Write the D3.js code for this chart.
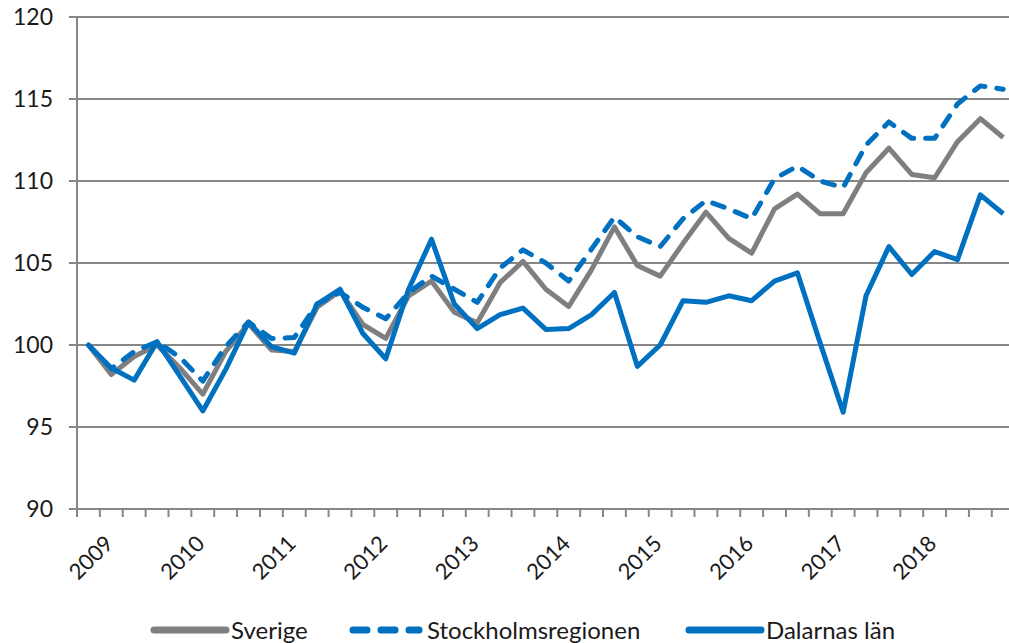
<!DOCTYPE html>
<html><head><meta charset="utf-8">
<script src="https://cdn.jsdelivr.net/npm/d3@7"></script>
<style>html,body{margin:0;padding:0;background:#fff;}svg{display:block;font-family:Lato,"Open Sans",sans-serif;}</style>
</head><body><svg id="c" width="1009" height="643"></svg>
<script>
const quarters = ["2009K1","2009K2","2009K3","2009K4","2010K1","2010K2","2010K3","2010K4","2011K1","2011K2","2011K3","2011K4","2012K1","2012K2","2012K3","2012K4","2013K1","2013K2","2013K3","2013K4","2014K1","2014K2","2014K3","2014K4","2015K1","2015K2","2015K3","2015K4","2016K1","2016K2","2016K3","2016K4","2017K1","2017K2","2017K3","2017K4","2018K1","2018K2","2018K3","2018K4","2019K1"];
const yearLabels = ["2009","2010","2011","2012","2013","2014","2015","2016","2017","2018"];
const yTicks = [90,95,100,105,110,115,120];
const sverige = [100,98.2,99.3,100.0,98.6,97.0,99.6,101.3,99.7,99.6,102.3,103.3,101.25,100.4,103.0,103.9,102.0,101.35,103.8,105.1,103.4,102.35,104.6,107.2,104.85,104.2,106.2,108.1,106.5,105.6,108.3,109.2,108.0,108.0,110.5,112.0,110.4,110.2,112.4,113.8,112.65];
const stockholm = [100,98.55,99.6,100.2,99.25,97.8,99.9,101.4,100.4,100.45,102.5,103.2,102.3,101.6,103.2,104.2,103.4,102.6,104.7,105.8,105.0,103.9,105.85,107.8,106.6,106.0,107.7,108.8,108.3,107.7,110.15,110.9,110.0,109.6,112.2,113.6,112.6,112.6,114.7,115.8,115.6];
const dalarna = [100,98.6,97.86,100.2,98.1,95.98,98.5,101.4,99.9,99.5,102.5,103.4,100.7,99.16,103.4,106.45,102.5,101.0,101.85,102.25,100.95,101.0,101.85,103.2,98.7,100.0,102.7,102.6,103.0,102.7,103.9,104.4,100.1,95.9,103.0,106.0,104.3,105.7,105.2,109.15,108.0];
const seriesNames = ["Sverige","Stockholmsregionen","Dalarnas län"];

const svg = d3.select("#c");
const gridCol = "#878787";
const x = d3.scaleLinear().domain([0, quarters.length]).range([77, 77 + 22.87*quarters.length]);
const y = d3.scaleLinear().domain([90,120]).range([509,17]);

// gridlines
svg.append("g").selectAll("line").data(yTicks).join("line")
  .attr("x1",69).attr("x2",1009).attr("y1",d=>y(d)).attr("y2",d=>y(d))
  .attr("stroke",gridCol).attr("stroke-width",2);
// y axis line
svg.append("line").attr("x1",77).attr("x2",77).attr("y1",y(120)).attr("y2",y(90)+1)
  .attr("stroke",gridCol).attr("stroke-width",2);
// x ticks
svg.append("g").selectAll("line").data(d3.range(0, quarters.length+1)).join("line")
  .attr("x1",d=>x(d)).attr("x2",d=>x(d)).attr("y1",y(90)).attr("y2",y(90)+8)
  .attr("stroke",gridCol).attr("stroke-width",2);
// y labels
svg.append("g").selectAll("text").data(yTicks).join("text")
  .attr("x",53).attr("y",d=>y(d)).attr("dy","0.36em").attr("text-anchor","end")
  .attr("font-size",23).attr("fill","#1a1a1a").text(d=>d);
// x labels
svg.append("g").selectAll("text").data(yearLabels).join("text")
  .attr("transform",(d,i)=>`translate(${x(i*4+0.5)+26},545) rotate(-45)`)
  .attr("text-anchor","end").attr("font-size",22).attr("fill","#1a1a1a").text(d=>d);

const line = d3.line().x((d,i)=>x(i+0.5)).y(d=>y(d));
const styles = [
  {data:sverige, color:"#7f7f7f", dash:null},
  {data:stockholm, color:"#0070c0", dash:"12,12"},
  {data:dalarna, color:"#0070c0", dash:null}
];
styles.forEach(s=>{
  svg.append("path").datum(s.data).attr("d",line).attr("fill","none")
    .attr("stroke",s.color).attr("stroke-width",5).attr("stroke-linejoin","round")
    .attr("stroke-linecap", s.dash ? "round":"butt")
    .attr("stroke-dasharray", s.dash);
});

// legend
const legX = [154, 350, 689];
const lg = svg.append("g");
seriesNames.forEach((n,i)=>{
  const s = styles[i];
  lg.append("line").attr("x1",legX[i]+(s.dash?3:0)).attr("x2",legX[i]+72-(s.dash?3:0)).attr("y1",630).attr("y2",630)
    .attr("stroke",s.color).attr("stroke-width",7)
    .attr("stroke-linecap","round").attr("stroke-dasharray", s.dash?"14,14":null);
  lg.append("text").attr("x",legX[i]+77).attr("y",630).attr("dy","0.36em")
    .attr("font-size",24).attr("fill","#1a1a1a").text(n);
});
</script></body></html>
